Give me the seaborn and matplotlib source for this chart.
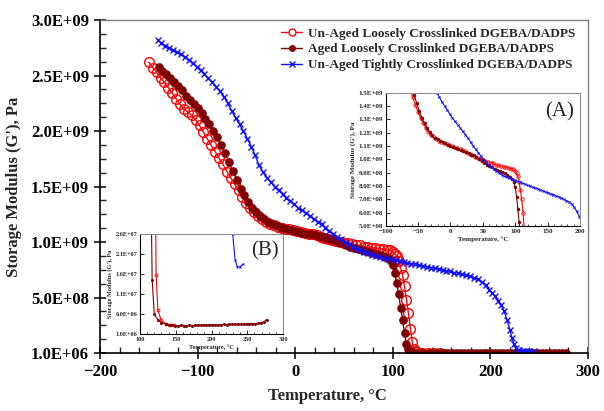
import numpy as np
import pandas as pd
import matplotlib
matplotlib.use("Agg")
import matplotlib.pyplot as plt
import seaborn as sns
from matplotlib.ticker import FixedLocator, MultipleLocator
from matplotlib.lines import Line2D

# ---------------- data (temperature in degC, storage modulus in GPa) ----------------
unaged_loose_T = [-150, -146, -142, -138, -134, -130, -126, -122, -118, -114, -110, -106, -102,
                  -98, -94, -90, -86, -82, -78, -74, -70, -66, -62, -58, -54, -50, -46, -42,
                  -38, -34, -30, -26, -22, -18, -14, -10, -6, -2, 2, 6, 10, 14, 18, 22, 26, 30,
                  34, 38, 42, 46, 50, 54, 58, 62, 66, 70, 74, 78, 82, 86, 90, 94, 97, 100, 102,
                  104, 106, 108, 110, 112, 114, 116, 118, 120, 121.5, 122.5, 125, 129.5, 136.5,
                  142, 148]
unaged_loose_G = [2.62, 2.57, 2.53, 2.48, 2.44, 2.39, 2.34, 2.29, 2.24, 2.20, 2.17, 2.14, 2.10,
                  2.05, 1.99, 1.93, 1.87, 1.815, 1.755, 1.70, 1.635, 1.58, 1.52, 1.465, 1.405,
                  1.355, 1.31, 1.27, 1.235, 1.205, 1.18, 1.165, 1.15, 1.14, 1.13, 1.12, 1.115,
                  1.11, 1.10, 1.09, 1.085, 1.075, 1.07, 1.06, 1.05, 1.04, 1.03, 1.02, 1.01, 1.005,
                  0.995, 0.99, 0.98, 0.975, 0.97, 0.96, 0.955, 0.95, 0.945, 0.94, 0.935, 0.93,
                  0.925, 0.91, 0.895, 0.875, 0.83, 0.77, 0.70, 0.60, 0.48, 0.36, 0.22, 0.10,
                  0.04, 0.0158, 0.0071, 0.0044, 0.0035, 0.0033, 0.0033]

aged_loose_T = [-140, -136, -132, -128, -124, -120, -116, -112, -108, -104, -100, -96, -92, -88,
                -84, -80, -76, -72, -68, -64, -60, -56, -52, -48, -44, -40, -36, -32, -28, -24,
                -20, -16, -12, -8, -4, 0, 4, 8, 12, 16, 20, 24, 28, 32, 36, 40, 44, 48, 52, 56,
                60, 64, 68, 72, 76, 80, 84, 88, 92, 95, 98, 100, 102, 104, 106, 108, 110, 112,
                114, 115.5, 117, 120, 125, 130, 137, 141, 145, 149, 153, 157, 161, 165, 169,
                173, 177, 181, 185, 189, 193, 197, 201, 205, 209, 213, 217, 221, 225, 229, 233,
                237, 241, 245, 249, 253, 257, 261, 265, 269, 273, 277]
aged_loose_G = [2.58, 2.545, 2.515, 2.475, 2.445, 2.41, 2.37, 2.32, 2.28, 2.24, 2.21, 2.16, 2.11,
                2.06, 2.00, 1.945, 1.87, 1.80, 1.72, 1.64, 1.56, 1.48, 1.42, 1.36, 1.31, 1.27,
                1.235, 1.205, 1.18, 1.16, 1.15, 1.14, 1.13, 1.12, 1.11, 1.10, 1.09, 1.085,
                1.075, 1.07, 1.06, 1.055, 1.045, 1.035, 1.03, 1.015, 1.005, 0.99, 0.975, 0.96,
                0.95, 0.94, 0.93, 0.92, 0.91, 0.905, 0.895, 0.885, 0.87, 0.855, 0.83, 0.79,
                0.72, 0.63, 0.53, 0.41, 0.30, 0.18, 0.08, 0.035, 0.0146, 0.0059, 0.00456,
                0.0038, 0.0035, 0.0033, 0.0032, 0.0031, 0.0031, 0.0032, 0.0031, 0.0031, 0.0032,
                0.0031, 0.0032, 0.0032, 0.0032, 0.0033, 0.0032, 0.0033, 0.0033, 0.0033, 0.0032,
                0.0033, 0.0034, 0.0033, 0.0034, 0.0034, 0.0034, 0.0035, 0.0034, 0.0035,
                0.0035, 0.0036, 0.0036, 0.0036, 0.0037, 0.0038, 0.0040, 0.0046]

unaged_tight_T = [-141, -137, -133, -129, -125, -121, -117, -113, -109, -105, -101, -97, -93,
                  -89, -85, -81, -77, -73, -69, -65, -61, -57, -53, -49, -45, -41, -37, -33, -29,
                  -25, -21, -17, -13, -9, -5, -1, 3, 7, 11, 15, 19, 23, 27, 31, 35, 39, 43, 47,
                  51, 55, 59, 63, 67, 71, 75, 79, 83, 87, 91, 95, 99, 103, 107, 111, 115, 119,
                  123, 127, 131, 135, 139, 143, 147, 151, 155, 159, 163, 167, 171, 175, 179,
                  183, 187, 191, 195, 199, 202, 205, 208, 211, 214, 217, 220, 222, 224, 226,
                  228, 229.6, 233, 236, 240, 244.6]
unaged_tight_G = [2.82, 2.79, 2.77, 2.75, 2.73, 2.71, 2.69, 2.665, 2.64, 2.61, 2.58, 2.55, 2.51,
                  2.475, 2.44, 2.40, 2.36, 2.31, 2.25, 2.18, 2.12, 2.06, 2.00, 1.93, 1.86, 1.78,
                  1.69, 1.63, 1.58, 1.54, 1.50, 1.465, 1.43, 1.40, 1.37, 1.34, 1.31, 1.285, 1.26,
                  1.235, 1.21, 1.185, 1.16, 1.13, 1.10, 1.075, 1.05, 1.025, 1.00, 0.98, 0.96,
                  0.94, 0.925, 0.91, 0.90, 0.885, 0.875, 0.865, 0.86, 0.85, 0.845, 0.835, 0.83,
                  0.82, 0.815, 0.805, 0.80, 0.79, 0.785, 0.78, 0.77, 0.765, 0.755, 0.75, 0.74,
                  0.735, 0.725, 0.72, 0.71, 0.70, 0.69, 0.68, 0.665, 0.64, 0.61, 0.57, 0.54,
                  0.51, 0.47, 0.43, 0.38, 0.30, 0.21, 0.14, 0.08, 0.045, 0.03, 0.026, 0.0196,
                  0.0178, 0.0178, 0.0185]

series_labels = ["Un-Aged Loosely Crosslinked DGEBA/DADPS",
                 "Aged Loosely Crosslinked DGEBA/DADPS",
                 "Un-Aged Tightly Crosslinked DGEBA/DADPS"]

main_xticks = [-200, -100, 0, 100, 200, 300]
main_yticks = [1e6, 5e8, 1e9, 1.5e9, 2e9, 2.5e9, 3e9]
main_yticklabels = ["1.0E+06", "5.0E+08", "1.0E+09", "1.5E+09", "2.0E+09", "2.5E+09", "3.0E+09"]

insetA_xticks = [-100, -50, 0, 50, 100, 150, 200]
insetA_yticks = [5e8, 6e8, 7e8, 8e8, 9e8, 1e9, 1.1e9, 1.2e9, 1.3e9, 1.4e9, 1.5e9]
insetA_yticklabels = ["5.0E+08", "6.0E+08", "7.0E+08", "8.0E+08", "9.0E+08", "1.0E+09",
                      "1.1E+09", "1.2E+09", "1.3E+09", "1.4E+09", "1.5E+09"]

insetB_xticks = [100, 150, 200, 250, 300]
insetB_yticks = [1e6, 6e6, 1.1e7, 1.6e7, 2.1e7, 2.6e7]
insetB_yticklabels = ["1.0E+06", "6.0E+06", "1.1E+07", "1.6E+07", "2.1E+07", "2.6E+07"]

# ---------------- build table ----------------
frames = []
for lab, T, G in zip(series_labels,
                     [unaged_loose_T, aged_loose_T, unaged_tight_T],
                     [unaged_loose_G, aged_loose_G, unaged_tight_G]):
    frames.append(pd.DataFrame({"T": T, "G": np.array(G) * 1e9, "series": lab}))
df = pd.concat(frames, ignore_index=True)

RED = "#FF0000"
DARK = "#800000"
BLUE = "#1010FF"

styles = {
    series_labels[0]: dict(color=RED, marker="o", markerfacecolor="none", markeredgecolor=RED),
    series_labels[1]: dict(color=DARK, marker="o", markerfacecolor=DARK, markeredgecolor=DARK),
    series_labels[2]: dict(color=BLUE, marker="x", markeredgecolor=BLUE),
}
main_ms = {series_labels[0]: 7.0, series_labels[1]: 5.2, series_labels[2]: 4.5}
main_mew = {series_labels[0]: 1.0, series_labels[1]: 1.0, series_labels[2]: 1.0}

sns.set_style("ticks")
plt.rcParams["font.family"] = ["Liberation Serif", "DejaVu Serif"]
plt.rcParams["font.weight"] = "bold"

fig = plt.figure(figsize=(6.04, 4.11), dpi=100)
W, H = 604.0, 411.0
ax = fig.add_axes([100 / W, 58 / H, 488 / W, 333 / H])


def draw(axis, ms_scale, lw, mew_scale):
    for lab in series_labels:
        sub = df[df["series"] == lab]
        st = styles[lab]
        sns.lineplot(data=sub, x="T", y="G", ax=axis, sort=False, estimator=None,
                     legend=False, linewidth=lw, markersize=main_ms[lab] * ms_scale,
                     markeredgewidth=main_mew[lab] * mew_scale, **st)


draw(ax, 1.0, 1.0, 1.0)
ax.set_xlim(-200, 300)
ax.set_ylim(1e6, 3e9)
ax.xaxis.set_major_locator(FixedLocator(main_xticks))
ax.xaxis.set_minor_locator(MultipleLocator(20))
ax.yaxis.set_major_locator(FixedLocator(main_yticks))
ax.set_yticklabels(main_yticklabels)
ax.yaxis.set_minor_locator(MultipleLocator(1.25e8))
ax.tick_params(which="major", direction="inout", length=9, width=1.1, labelsize=12,
               colors="black")
ax.tick_params(which="minor", direction="in", length=4, width=1.0)
for lbl in ax.get_xticklabels() + ax.get_yticklabels():
    lbl.set_fontweight("bold")
ax.set_xlabel("Temperature, \u00b0C", fontsize=12, fontweight="bold", labelpad=4)
ax.xaxis.set_label_coords(0.465, -0.105)
ax.set_ylabel("Storage Modulus (G'), Pa", fontsize=12, fontweight="bold", labelpad=6)
for s in ["left", "bottom"]:
    ax.spines[s].set_color("black")
    ax.spines[s].set_linewidth(1.2)
for s in ["top", "right"]:
    ax.spines[s].set_color("#808080")
    ax.spines[s].set_linewidth(1.0)

handles = [
    Line2D([], [], color=RED, marker="o", markerfacecolor="white", markeredgecolor=RED,
           markersize=5, lw=1),
    Line2D([], [], color=DARK, marker="o", markerfacecolor=DARK, markersize=4, lw=1),
    Line2D([], [], color=BLUE, marker="x", markersize=4, lw=1),
]
leg = ax.legend(handles, series_labels, loc="upper left", bbox_to_anchor=(276 / W, 1 - 22 / H),
                bbox_transform=fig.transFigure, frameon=False, fontsize=9.5,
                handlelength=1.6, handletextpad=0.4, labelspacing=0.28, borderaxespad=0)
for t in leg.get_texts():
    t.set_fontweight("bold")

# ---------------- inset A ----------------
axA = fig.add_axes([385.7 / W, (H - 226) / H, (580 - 385.7) / W, (226 - 92.7) / H])
axA.set_facecolor("white")
draw(axA, 0.35, 0.8, 0.6)
axA.set_xlim(-100, 200)
axA.set_ylim(5e8, 1.5e9)
axA.xaxis.set_major_locator(FixedLocator(insetA_xticks))
axA.xaxis.set_minor_locator(MultipleLocator(10))
axA.yaxis.set_major_locator(FixedLocator(insetA_yticks))
axA.set_yticklabels(insetA_yticklabels)
axA.tick_params(which="major", direction="in", length=3, width=0.7, labelsize=5, pad=2)
axA.tick_params(which="minor", direction="in", length=1.5, width=0.6)
for lbl in axA.get_xticklabels() + axA.get_yticklabels():
    lbl.set_fontweight("bold")
axA.set_xlabel("Temperature, \u00b0C", fontsize=5, fontweight="bold", labelpad=2)
axA.set_ylabel("Storage Modulus (G'), Pa", fontsize=5, fontweight="bold", labelpad=2)
for s in ["left", "bottom"]:
    axA.spines[s].set_color("black")
    axA.spines[s].set_linewidth(0.8)
for s in ["top", "right"]:
    axA.spines[s].set_color("#909090")
    axA.spines[s].set_linewidth(0.8)
axA.text(0.97, 0.93, "(A)", transform=axA.transAxes, ha="right", va="top",
         fontsize=15, fontweight="normal")

# ---------------- inset B ----------------
axB = fig.add_axes([140 / W, (H - 334) / H, (283 - 140) / W, (334 - 234) / H])
axB.set_facecolor("white")
draw(axB, 0.3, 0.8, 0.6)
axB.set_xlim(100, 300)
axB.set_ylim(1e6, 2.6e7)
axB.xaxis.set_major_locator(FixedLocator(insetB_xticks))
axB.xaxis.set_minor_locator(MultipleLocator(10))
axB.yaxis.set_major_locator(FixedLocator(insetB_yticks))
axB.set_yticklabels(insetB_yticklabels)
axB.tick_params(which="major", direction="in", length=3, width=0.7, labelsize=4.5, pad=2)
axB.tick_params(which="minor", direction="in", length=1.5, width=0.6)
for lbl in axB.get_xticklabels() + axB.get_yticklabels():
    lbl.set_fontweight("bold")
axB.set_xlabel("Temperature, \u00b0C", fontsize=4.5, fontweight="bold", labelpad=2)
axB.set_ylabel("Storage Modulus (G'), Pa", fontsize=4.5, fontweight="bold", labelpad=2)
for s in ["left", "bottom"]:
    axB.spines[s].set_color("black")
    axB.spines[s].set_linewidth(0.8)
for s in ["top", "right"]:
    axB.spines[s].set_color("#909090")
    axB.spines[s].set_linewidth(0.8)
axB.text(0.97, 0.93, "(B)", transform=axB.transAxes, ha="right", va="top",
         fontsize=15, fontweight="normal")

fig.savefig("out.png", dpi=100)
